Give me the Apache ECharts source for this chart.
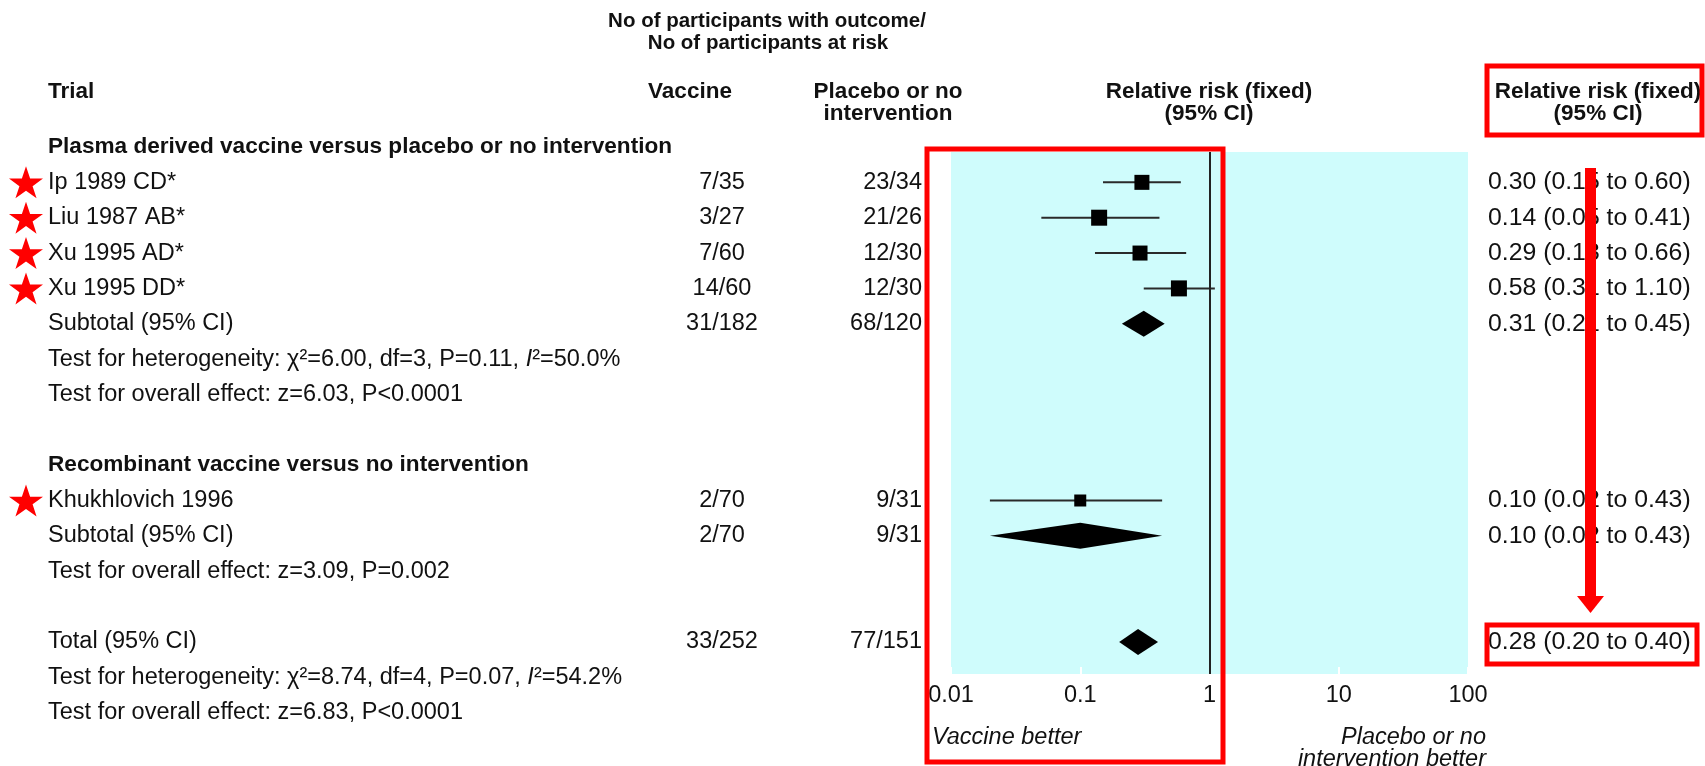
<!DOCTYPE html>
<html>
<head>
<meta charset="utf-8">
<script src="https://cdn.jsdelivr.net/npm/echarts@6/dist/echarts.min.js"></script>
<style>
html,body{margin:0;padding:0;background:#fff;}
#main{width:1705px;height:766px;}
</style>
</head>
<body>
<div id="main"></div>
<script>
// ---------------- DATA ----------------
const groupNames = ['Plasma derived vaccine versus placebo or no intervention', 'Recombinant vaccine versus no intervention'];
const trialNames = ['Ip 1989 CD*', 'Liu 1987 AB*', 'Xu 1995 AD*', 'Xu 1995 DD*', 'Khukhlovich 1996'];
const trialGroup = [0, 0, 0, 0, 1];
const vaccineEvents = ['7/35', '3/27', '7/60', '14/60', '2/70'];
const placeboEvents = ['23/34', '21/26', '12/30', '12/30', '9/31'];
const trialRR = [0.30, 0.14, 0.29, 0.58, 0.10];
const trialLow = [0.15, 0.05, 0.13, 0.31, 0.02];
const trialHigh = [0.60, 0.41, 0.66, 1.10, 0.43];
const trialBoxWeight = [15, 16, 15, 16, 12];
const trialStarred = [true, true, true, true, true];

const subVaccine = ['31/182', '2/70'];
const subPlacebo = ['68/120', '9/31'];
const subRR = [0.31, 0.10];
const subLow = [0.21, 0.02];
const subHigh = [0.45, 0.43];
const subHet = ['χ²=6.00, df=3, P=0.11, {it|I}²=50.0%', null];
const subEffect = ['z=6.03, P<0.0001', 'z=3.09, P=0.002'];

const totalVaccine = '33/252';
const totalPlacebo = '77/151';
const totalRR = 0.28, totalLow = 0.20, totalHigh = 0.40;
const totalHet = 'χ²=8.74, df=4, P=0.07, {it|I}²=54.2%';
const totalEffect = 'z=6.83, P<0.0001';

const tickLabels = ['0.01', '0.1', '1', '10', '100'];

// ---------------- BUILD ROWS ----------------
const rows = [];
groupNames.forEach((g, gi) => {
  rows.push({ left: g, bold: true });
  trialNames.forEach((t, i) => {
    if (trialGroup[i] !== gi) return;
    rows.push({ left: t, vac: vaccineEvents[i], pla: placeboEvents[i],
      est: { rr: trialRR[i], lo: trialLow[i], hi: trialHigh[i], kind: 'box', w: trialBoxWeight[i] }, star: trialStarred[i] });
  });
  rows.push({ left: 'Subtotal (95% CI)', vac: subVaccine[gi], pla: subPlacebo[gi],
    est: { rr: subRR[gi], lo: subLow[gi], hi: subHigh[gi], kind: 'diamond' } });
  if (subHet[gi]) rows.push({ left: 'Test for heterogeneity: ' + subHet[gi] });
  rows.push({ left: 'Test for overall effect: ' + subEffect[gi] });
  rows.push({ left: '' });
});
rows.push({ left: 'Total (95% CI)', vac: totalVaccine, pla: totalPlacebo,
  est: { rr: totalRR, lo: totalLow, hi: totalHigh, kind: 'diamond' } });
rows.push({ left: 'Test for heterogeneity: ' + totalHet });
rows.push({ left: 'Test for overall effect: ' + totalEffect });

const fmt = v => v.toFixed(2);

// ---------------- LAYOUT CONSTANTS ----------------
const FONT = "'Liberation Sans', Arial, sans-serif";
const TXT = '#111111';
const ROW0 = 147, STEP = 35.35, H = 766;
const COL_LEFT = 48, COL_VAC = 722, COL_PLA = 922, COL_RR = 1488, COL_STAR = 26;
const plotTop = 152, plotBottom = 674, plotLeft = 951, plotRight = 1468;

const leftData = [], vacData = [], plaData = [], rrData = [], starData = [], boxData = [], ciData = [], diaData = [];
rows.forEach((r, i) => {
  if (r.left) leftData.push({ value: [COL_LEFT, i], txt: r.bold ? '{b|' + r.left + '}' : r.left });
  if (r.vac) vacData.push({ value: [COL_VAC, i], txt: r.vac });
  if (r.pla) plaData.push({ value: [COL_PLA, i], txt: r.pla });
  if (r.star) starData.push([COL_STAR, i]);
  if (r.est) {
    rrData.push({ value: [COL_RR, i], txt: fmt(r.est.rr) + ' (' + fmt(r.est.lo) + ' to ' + fmt(r.est.hi) + ')' });
    if (r.est.kind === 'box') {
      boxData.push({ value: [r.est.rr, i], symbolSize: r.est.w });
      ciData.push([r.est.lo, r.est.hi, i]);
    } else {
      diaData.push([r.est.lo, r.est.rr, r.est.hi, i]);
    }
  }
});

function textSeries(data, position, size) {
  return {
    type: 'scatter', xAxisIndex: 1, yAxisIndex: 1, data: data,
    symbolSize: 0, itemStyle: { color: '#000', opacity: 1 }, silent: true, clip: false,
    label: {
      show: true, position: position, distance: 0,
      formatter: p => p.data.txt,
      color: TXT, fontFamily: FONT, fontSize: size || 23.5,
      rich: {
        b: { fontFamily: FONT, fontSize: 22.6, fontWeight: 'bold', color: TXT },
        it: { fontFamily: FONT, fontSize: size || 23.5, fontStyle: 'italic', color: TXT }
      }
    }
  };
}

const chart = echarts.init(document.getElementById('main'), null, { renderer: 'canvas' });

const headerText = (text, x, y, align, size) => ({
  type: 'text', x: x, y: y, z: 50, silent: true,
  style: { text: text, align: align, verticalAlign: 'middle', fill: TXT,
    font: 'bold ' + (size || 22.5) + 'px ' + FONT }
});
const plainText = (text, x, y, align, italic) => ({
  type: 'text', x: x, y: y, z: 50, silent: true,
  style: { text: text, align: align, verticalAlign: 'middle', fill: TXT,
    font: (italic ? 'italic ' : '') + '23.5px ' + FONT }
});
const redBox = (x1, y1, x2, y2) => ({
  type: 'rect', z: 100, silent: true,
  shape: { x: x1, y: y1, width: x2 - x1, height: y2 - y1 },
  style: { fill: null, stroke: '#ff0000', lineWidth: 5 }
});

const option = {
  animation: false,
  backgroundColor: '#ffffff',
  grid: [
    { left: plotLeft, width: plotRight - plotLeft, top: plotTop, height: plotBottom - plotTop,
      show: true, backgroundColor: '#cffcfc', borderWidth: 0 },
    { left: 0, right: 0, top: 0, bottom: 0, show: false }
  ],
  xAxis: [
    { type: 'log', gridIndex: 0, logBase: 10, min: 0.01, max: 100, splitNumber: 4,
      axisLine: { show: false }, splitLine: { show: false },
      axisTick: { show: true, inside: true, length: 7, lineStyle: { color: '#ffffff', width: 2 } },
      axisLabel: { show: true, margin: 10, fontFamily: FONT, fontSize: 23.5, color: TXT,
        formatter: (v, idx) => tickLabels[idx] } },
    { type: 'value', gridIndex: 1, min: 0, max: 1705, show: false }
  ],
  yAxis: [
    { type: 'value', gridIndex: 0, inverse: true,
      min: (plotTop - ROW0) / STEP, max: (plotBottom - ROW0) / STEP, show: false },
    { type: 'value', gridIndex: 1, inverse: true,
      min: -ROW0 / STEP, max: (H - ROW0) / STEP, show: false }
  ],
  series: [
    { type: 'scatter', xAxisIndex: 0, yAxisIndex: 0, data: [], silent: true,
      markLine: { symbol: 'none', silent: true, label: { show: false },
        lineStyle: { color: '#222222', width: 2, type: 'solid', opacity: 1 }, data: [{ xAxis: 1 }] } },
    { type: 'custom', xAxisIndex: 0, yAxisIndex: 0, data: ciData, silent: true, clip: false,
      renderItem: (params, api) => {
        const a = api.coord([api.value(0), api.value(2)]);
        const b = api.coord([api.value(1), api.value(2)]);
        return { type: 'line', shape: { x1: a[0], y1: a[1], x2: b[0], y2: b[1] },
          style: { stroke: '#2a2a2a', lineWidth: 2 } };
      } },
    { type: 'scatter', xAxisIndex: 0, yAxisIndex: 0, data: boxData, symbol: 'rect', silent: true,
      itemStyle: { color: '#000000', opacity: 1 } },
    { type: 'custom', xAxisIndex: 0, yAxisIndex: 0, data: diaData, silent: true, clip: false,
      renderItem: (params, api) => {
        const r = api.value(3);
        const lo = api.coord([api.value(0), r]);
        const mid = api.coord([api.value(1), r]);
        const hi = api.coord([api.value(2), r]);
        const h = 13;
        return { type: 'polygon',
          shape: { points: [[lo[0], lo[1]], [mid[0], mid[1] - h], [hi[0], hi[1]], [mid[0], mid[1] + h]] },
          style: { fill: '#000000' } };
      } },
    { type: 'scatter', xAxisIndex: 1, yAxisIndex: 1, data: starData, silent: true, clip: false,
      symbol: 'path://M50,0 L61.8,35.1 L98.8,35.1 L68.9,56.9 L80.3,92 L50,70.2 L19.7,92 L31.1,56.9 L1.2,35.1 L38.2,35.1 Z',
      symbolSize: [34, 32], itemStyle: { color: '#ff0000', opacity: 1 } },
    textSeries(leftData, 'right'),
    textSeries(vacData, 'inside'),
    textSeries(plaData, 'left'),
    textSeries(rrData, 'right', 24.8)
  ],
  graphic: [
    headerText('No of participants with outcome/', 767, 21, 'center', 20.5),
    headerText('No of participants at risk', 768, 43, 'center', 20.5),
    headerText('Trial', COL_LEFT, 92, 'left'),
    headerText('Vaccine', 690, 92, 'center'),
    headerText('Placebo or no', 888, 92, 'center'),
    headerText('intervention', 888, 114, 'center'),
    headerText('Relative risk (fixed)', 1209, 92, 'center'),
    headerText('(95% CI)', 1209, 114, 'center'),
    headerText('Relative risk (fixed)', 1598, 92, 'center'),
    headerText('(95% CI)', 1598, 114, 'center'),
    plainText('Vaccine better', 932, 737, 'left', true),
    plainText('Placebo or no', 1486, 737, 'right', true),
    plainText('intervention better', 1486, 759, 'right', true),
    redBox(927, 149, 1223, 762),
    redBox(1487, 66, 1702, 135),
    redBox(1487, 625, 1697, 664),
    { type: 'rect', z: 100, silent: true, shape: { x: 1585, y: 168, width: 11, height: 432 },
      style: { fill: '#ff0000' } },
    { type: 'polygon', z: 100, silent: true,
      shape: { points: [[1577, 596], [1604, 596], [1590.5, 613]] }, style: { fill: '#ff0000' } }
  ]
};
chart.setOption(option);
</script>
</body>
</html>
